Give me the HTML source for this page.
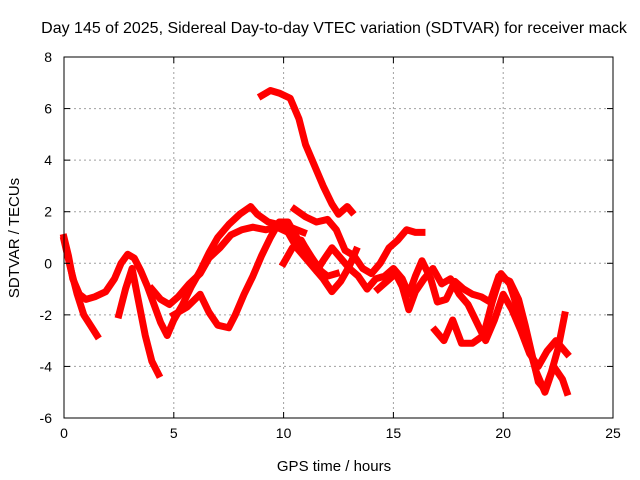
<!DOCTYPE html>
<html><head><meta charset="utf-8"><style>
body{margin:0;background:#fff}
svg{display:block;font-family:"Liberation Sans",sans-serif}
</style></head><body>
<svg id="chart" width="640" height="480" viewBox="0 0 640 480" xmlns="http://www.w3.org/2000/svg">
<rect width="640" height="480" fill="#fff"/>
<text x="334" y="33" font-size="16" text-anchor="middle">Day 145 of 2025, Sidereal Day-to-day VTEC variation (SDTVAR) for receiver mack</text>
<text x="334" y="471" font-size="15" text-anchor="middle">GPS time / hours</text>
<text transform="translate(19,238) rotate(-90)" font-size="15" text-anchor="middle">SDTVAR / TECUs</text>
<g id="grid"></g><g id="series"></g><g id="axes"></g>
</svg>
<script>
const xTicks=[0,5,10,15,20,25];
const yTicks=[-6,-4,-2,0,2,4,6,8];
const trackA=[[0,1.0],[0.2,0.3],[0.4,-0.6],[0.7,-1.2],[1.0,-1.4],[1.4,-1.3],[1.9,-1.1],[2.3,-0.6],[2.6,0],[2.9,0.35],[3.2,0.2],[3.5,-0.3],[3.8,-0.9],[4.1,-1.6],[4.4,-2.3],[4.7,-2.8],[5.0,-2.2],[5.4,-1.6],[5.8,-0.9],[6.2,-0.3],[6.6,0.4],[7.0,1.0],[7.5,1.5],[8.0,1.9],[8.5,2.2],[8.8,1.9],[9.3,1.6],[9.8,1.5],[10.3,1.4],[10.9,1.2]];
const trackB=[[0,0.9],[0.3,-0.2],[0.6,-1.2],[0.9,-2.0],[1.2,-2.4],[1.5,-2.8]];
const trackC=[[2.5,-2.0],[2.8,-1.0],[3.1,-0.2],[3.4,-1.5],[3.7,-2.8],[4.0,-3.8],[4.3,-4.3]];
const trackD=[[4.0,-1.0],[4.4,-1.4],[4.8,-1.6],[5.2,-1.3],[5.7,-0.8],[6.2,-0.4],[6.6,0.2],[7.1,0.6],[7.6,1.1],[8.1,1.3],[8.6,1.4],[9.2,1.3],[9.7,1.4],[10.2,1.2],[10.6,0.6],[11.0,0.2],[11.4,-0.2],[11.8,-0.6],[12.2,-1.1],[12.6,-0.7],[13.0,-0.1],[13.3,0.5]];
const trackE=[[5.0,-2.0],[5.6,-1.7],[6.2,-1.2],[6.6,-1.9],[7.0,-2.4],[7.5,-2.5],[7.8,-2.0],[8.2,-1.2],[8.6,-0.5],[9.0,0.3],[9.4,1.0],[9.8,1.6],[10.2,1.6],[10.6,1.0],[11.0,0.6],[11.3,0.2],[11.7,-0.3],[12.0,-0.5],[12.4,-0.4]];
const trackF=[[9.0,6.5],[9.4,6.7],[9.8,6.6],[10.3,6.4],[10.7,5.6],[11.0,4.6],[11.4,3.8],[11.8,3.0],[12.2,2.3],[12.5,1.9],[12.9,2.2],[13.1,2.0]];
const trackG=[[10.5,2.1],[11.0,1.8],[11.5,1.6],[12.0,1.7],[12.4,1.3],[12.8,0.5],[13.2,0.3],[13.6,-0.2],[14.0,-0.4],[14.4,0],[14.8,0.6],[15.2,0.9],[15.6,1.3],[16.0,1.2],[16.3,1.2]];
const trackH=[[10.0,0],[10.4,0.6],[10.8,0.9],[11.2,0.3],[11.5,-0.3],[11.8,0.1],[12.2,0.6],[12.6,0.2],[13.0,-0.2],[13.4,-0.5],[13.8,-1.0],[14.2,-0.6],[14.6,-0.5],[15.0,-0.2],[15.4,-0.6],[15.7,-1.2],[16.0,-0.5],[16.3,0.1],[16.7,-0.6],[17.0,-1.5],[17.4,-1.4],[17.8,-0.7],[18.2,-1.0],[18.6,-1.2],[19.0,-1.3],[19.4,-1.5],[19.8,-0.5],[20.3,-0.7],[20.7,-1.4],[21.0,-2.4],[21.3,-3.5],[21.6,-4.6],[21.9,-4.9],[22.2,-4.2],[22.5,-3.3],[22.8,-2.0]];
const trackI=[[14.3,-1.0],[14.7,-0.7],[15.1,-0.4],[15.4,-0.9],[15.7,-1.8],[16.0,-1.1],[16.4,-0.6],[16.8,-0.2],[17.2,-0.8],[17.6,-0.6],[18.0,-1.2],[18.4,-1.6],[18.8,-2.3],[19.2,-3.0],[19.6,-2.2],[20.0,-1.2],[20.4,-1.8],[20.8,-2.6],[21.2,-3.5],[21.6,-4.0],[22.0,-3.4],[22.4,-3.0],[22.9,-3.5]];
const trackJ=[[16.9,-2.6],[17.3,-3.0],[17.7,-2.2],[18.1,-3.1],[18.6,-3.1],[19.1,-2.8],[19.5,-1.5],[19.9,-0.4],[20.3,-0.8],[20.7,-1.9],[21.1,-3.0],[21.5,-4.2],[21.9,-5.0],[22.3,-4.0],[22.7,-4.5],[22.9,-5.0]];
const tracks=[trackA,trackB,trackC,trackD,trackE,trackF,trackG,trackH,trackI,trackJ];

const X0=64,X1=613,Y0=418,Y1=57,xmin=0,xmax=25,ymin=-6,ymax=8;
const sx=v=>X0+(v-xmin)/(xmax-xmin)*(X1-X0);
const sy=v=>Y0-(v-ymin)/(ymax-ymin)*(Y0-Y1);
const NS="http://www.w3.org/2000/svg";
function mk(t,a,p){const e=document.createElementNS(NS,t);for(const k in a)e.setAttribute(k,a[k]);p.appendChild(e);return e;}
const grid=document.getElementById('grid'),axes=document.getElementById('axes'),series=document.getElementById('series');
xTicks.forEach(t=>{
  const x=sx(t);
  if(t>xmin&&t<xmax){const g=mk('line',{x1:x,x2:x,y1:Y1,y2:Y0,stroke:'#a0a0a0','stroke-dasharray':'2,3'},grid);
  
  }
  mk('line',{x1:x,x2:x,y1:Y0,y2:Y0-6,stroke:'#000'},axes);
  mk('line',{x1:x,x2:x,y1:Y1,y2:Y1+6,stroke:'#000'},axes);
  const l=mk('text',{x:x,y:Y0+20,'font-size':14,'text-anchor':'middle'},axes);l.textContent=t;
  
  
});
yTicks.forEach(t=>{
  const y=sy(t);
  if(t>ymin&&t<ymax){const g=mk('line',{x1:X0,x2:X1,y1:y,y2:y,stroke:'#a0a0a0','stroke-dasharray':'2,3'},grid);
  
  }
  mk('line',{x1:X0,x2:X0+6,y1:y,y2:y,stroke:'#000'},axes);
  mk('line',{x1:X1,x2:X1-6,y1:y,y2:y,stroke:'#000'},axes);
  const l=mk('text',{x:X0-12,y:y+5,'font-size':14,'text-anchor':'end'},axes);l.textContent=t;
  
  
});
const frame=mk('rect',{x:X0,y:Y1,width:X1-X0,height:Y0-Y1,fill:'none',stroke:'#000'},axes);


tracks.forEach((tr,i)=>{
  const p=mk('polyline',{points:tr.map(d=>sx(d[0])+','+sy(d[1])).join(' '),fill:'none',stroke:'#ff0000','stroke-width':7,'stroke-linejoin':'round','stroke-linecap':'square'},series);
  
  
});
</script>
</body></html>
